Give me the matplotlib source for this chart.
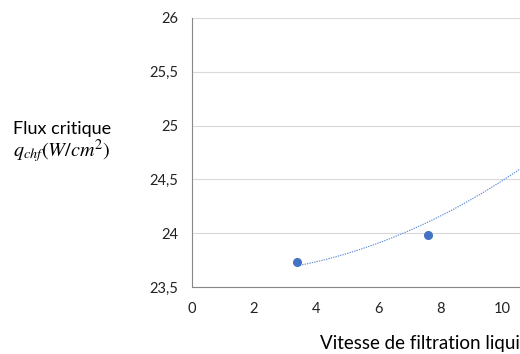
import matplotlib.pyplot as plt
import numpy as np

# measured points
vitesse = [3.4, 7.6]
flux = [23.73, 23.98]

# points
trend_x = [3.4, 5.5, 7.55, 9.0, 10.58, 12.0]
trend_y = [23.69, 23.87, 24.10, 24.30, 24.59, 24.90]

y_ticks = [23.5, 24, 24.5, 25, 25.5, 26]
x_ticks = [0, 2, 4, 6, 8, 10]

plt.rcParams['font.family'] = ['Lato', 'DejaVu Sans']
plt.rcParams['mathtext.fontset'] = 'stix'

fig = plt.figure(figsize=(5.2, 3.54), dpi=100)
ax = fig.add_axes([192 / 520, 1 - 287 / 354, 372 / 520, (287 - 18) / 354])

coef = np.polyfit(trend_x, trend_y, 2)
xs = np.linspace(trend_x[0], trend_x[-1], 200)
ax.plot(xs, np.polyval(coef, xs), color='#5b8bd6', lw=0.8, ls=(0, (1.2, 1.0)))
ax.plot(vitesse, flux, 'o', color='#4472c4', ms=5.5, zorder=3)

ax.set_xlim(0, 12)
ax.set_ylim(23.5, 26)
ax.set_xticks(x_ticks)
ax.set_yticks(y_ticks)
ax.set_xticklabels([str(v) for v in x_ticks])
ax.set_yticklabels([('%g' % v).replace('.', ',') for v in y_ticks])
ax.tick_params(length=0, labelsize=10.5, colors='#222222')
ax.tick_params(axis='y', pad=10)
ax.tick_params(axis='x', pad=11)
ax.grid(axis='y', color='#d9d9d9', lw=0.8)
ax.set_axisbelow(True)
for s in ['top', 'right']:
    ax.spines[s].set_visible(False)
ax.spines['left'].set_color('#888888')
ax.spines['bottom'].set_color('#888888')

fig.text(13 / 520, 1 - 129 / 354, 'Flux critique', fontsize=13, va='center', ha='left')
fig.text(13 / 520, 1 - 151 / 354, r'$q_{chf}(W/cm^2)$', fontsize=14.5, va='center', ha='left')
fig.text(320 / 520, 1 - 343 / 354, 'Vitesse de filtration liquide', fontsize=13.5, va='center', ha='left')

fig.savefig('out.png', dpi=100)
